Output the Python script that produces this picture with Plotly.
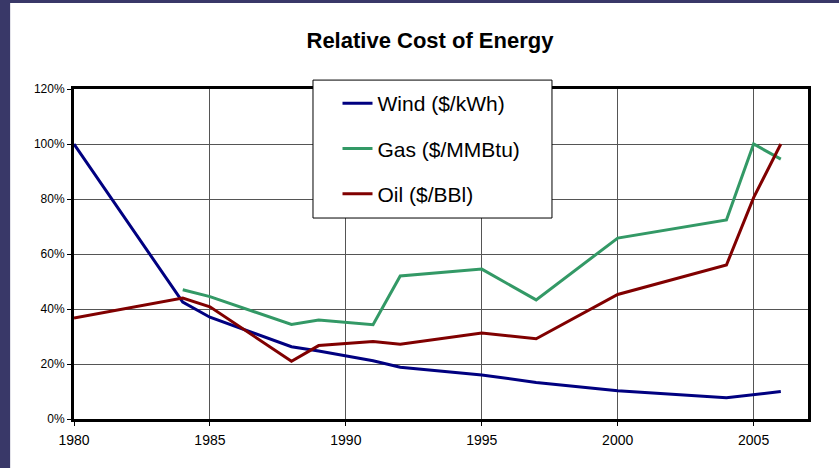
import plotly.graph_objects as go

# data (relative cost, % of peak)
wind_years = [1980, 1984, 1985, 1988, 1989, 1991, 1992, 1995, 1997, 2000, 2004, 2006]
wind_cost = [100, 42.5, 37, 26.3, 24.7, 21.2, 18.8, 16, 13.3, 10.3, 7.7, 10]

gas_years = [1984, 1985, 1988, 1989, 1991, 1992, 1995, 1997, 2000, 2004, 2005, 2006]
gas_cost = [47, 44.5, 34.4, 36, 34.3, 52, 54.5, 43.3, 65.8, 72.4, 100, 94.5]

oil_years = [1980, 1984, 1985, 1988, 1989, 1991, 1992, 1995, 1997, 2000, 2004, 2005, 2006]
oil_cost = [36.7, 44, 40.8, 21, 26.7, 28.2, 27.2, 31.3, 29.2, 45.3, 56, 80.5, 100]

SERIES = [
    ("Wind ($/kWh)", wind_years, wind_cost, "#000080"),
    ("Gas ($/MMBtu)", gas_years, gas_cost, "#339966"),
    ("Oil ($/BBl)", oil_years, oil_cost, "#800000"),
]

FONT = "Arial, Liberation Sans, sans-serif"
BORDER = "#393868"

fig = go.Figure()
for name, xs, ys, col in SERIES:
    fig.add_trace(go.Scatter(
        x=xs, y=ys, name=name, mode="lines",
        line=dict(color=col, width=3),
        legendgroup=name,
    ))

# slide-style frame: purple strips on the left and top
fig.add_shape(type="rect", xref="paper", yref="paper",
              x0=-0.101, x1=-0.087, y0=-0.2, y1=1.3,
              fillcolor=BORDER, line_width=0, layer="above")
fig.add_shape(type="rect", xref="paper", yref="paper",
              x0=-0.101, x1=1.05, y0=1.2606, y1=1.3,
              fillcolor=BORDER, line_width=0, layer="above")
# legend box
fig.add_shape(type="rect", xref="paper", yref="paper",
              x0=0.3256, x1=0.6512, y0=0.609, y1=1.027,
              fillcolor="white", line=dict(color="black", width=1),
              layer="above")

fig.update_layout(
    width=839, height=468,
    paper_bgcolor="white", plot_bgcolor="white",
    margin=dict(l=74, r=31, t=89, b=49),
    title=dict(text="<b>Relative Cost of Energy</b>",
               font=dict(family=FONT, size=22, color="black"),
               x=0.5125, xref="container", xanchor="center",
               y=0.9145, yref="container", yanchor="middle"),
    font=dict(family=FONT, size=12, color="black"),
    xaxis=dict(
        range=[1980, 2007], tick0=1980, dtick=5,
        showgrid=True, gridcolor="#555555", gridwidth=1,
        showline=True, linecolor="black", linewidth=3, mirror=True,
        ticks="outside", ticklen=4, tickcolor="black",
        tickfont=dict(family=FONT, size=14),
        ticklabelstandoff=2,
        zeroline=False,
    ),
    yaxis=dict(
        range=[0, 120], dtick=20, ticksuffix="%",
        showgrid=True, gridcolor="#555555", gridwidth=1,
        showline=True, linecolor="black", linewidth=3, mirror=True,
        ticks="outside", ticklen=4, tickcolor="black",
        tickfont=dict(family=FONT, size=12),
        zeroline=False,
    ),
    legend=dict(
        x=0.359, y=1.018, xanchor="left", yanchor="top",
        bgcolor="rgba(0,0,0,0)", borderwidth=0,
        font=dict(family=FONT, size=21, color="black"),
        tracegroupgap=15,
    ),
    showlegend=True,
)

fig.write_html("out.html", config={"displayModeBar": False},
               post_script="document.body.style.margin='0';")
